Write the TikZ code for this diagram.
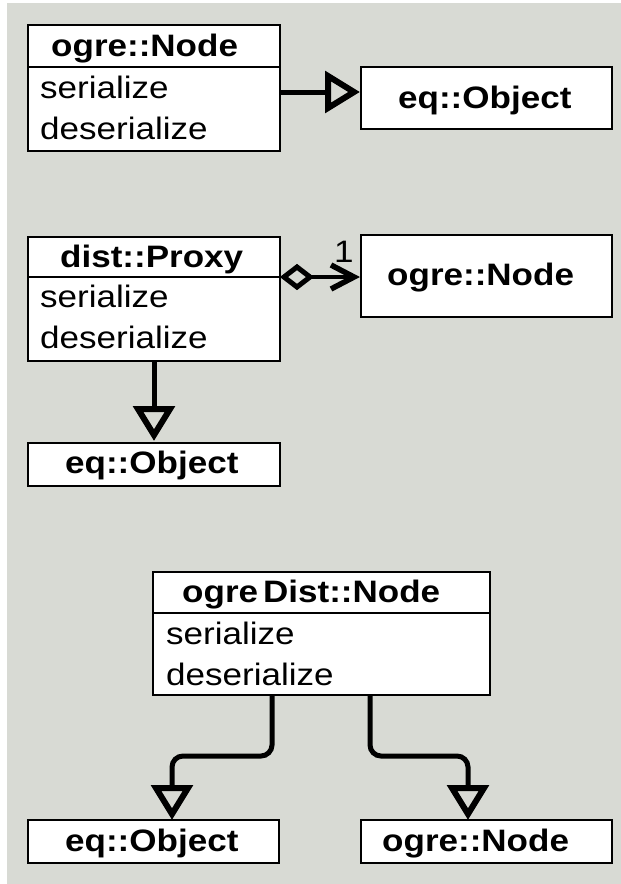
\documentclass[tikz,border=0pt]{standalone}
\usepackage{fontspec}
\setmainfont{Liberation Sans}[FakeStretch=1.13]
\definecolor{panel}{RGB}{216,218,212}
\tikzset{
  umlbox/.style={draw=black, fill=white, line width=2pt, inner sep=0pt},
  divider/.style={draw=black, line width=2pt},
  txt/.style={anchor=base west, inner sep=0pt, font=\fontsize{31}{34}\selectfont},
  ttl/.style={txt, font=\fontsize{31}{34}\selectfont\bfseries},
  conn/.style={draw=black, line width=5pt},
  % hollow triangle head, tip at the pic origin, pointing along +x
  genhead/.pic={\draw[line width=6pt, line join=miter, miter limit=10]
      (-3,0) -- (-29,-16) -- (-29,16) -- cycle;},
  % hollow diamond, left vertex at the pic origin
  aggtail/.pic={\draw[line width=5pt, line join=miter, miter limit=10]
      (3,0) -- (16,-10) -- (29,0) -- (16,10) -- cycle;},
  % open barb, tip at the pic origin
  navhead/.pic={\draw[line width=5.5pt, line join=miter, miter limit=10]
      (-26,-12) -- (-3,0) -- (-26,12);},
}
\begin{document}
\begin{tikzpicture}[x=1pt, y=-1pt]
  % page and panel
  \useasboundingbox (0,0) rectangle (621,884);
  \fill[white] (0,0) rectangle (621,884);
  \fill[panel] (7,3) rectangle (621,884);

  % --- ogre::Node derives from eq::Object
  \node[umlbox, minimum width=252pt, minimum height=126pt] (b1) at (154,88) {};
  \draw[divider] (b1.west |- 0,67) -- (b1.east |- 0,67);
  \node[ttl] (b1t) at (51,56) {ogre::Node};
  \node[txt] (b1s) at (40,98) {serialize};
  \node[txt] (b1d) at (40,139) {deserialize};

  \node[umlbox, minimum width=251pt, minimum height=62pt] (e1) at (486.5,98) {};
  \node[ttl] (e1t) at (398,108) {eq::Object};

  \coordinate (a1) at ([xshift=-3pt, yshift=-4pt]b1.east -| e1.west);
  \draw[conn] ([yshift=-4pt]b1.east) -- ([xshift=-29pt]a1);
  \pic at (a1) {genhead};

  % --- dist::Proxy aggregates ogre::Node, derives from eq::Object
  \node[umlbox, minimum width=252pt, minimum height=124pt] (b2) at (154,299) {};
  \draw[divider] (b2.west |- 0,277) -- (b2.east |- 0,277);
  \node[ttl] (b2t) at (60,267) {dist::Proxy};
  \node[txt] (b2s) at (40,307) {serialize};
  \node[txt] (b2d) at (40,348) {deserialize};

  \node[umlbox, minimum width=251pt, minimum height=82pt] (o2) at (486.5,276) {};
  \node[ttl] (o2t) at (387,285) {ogre::Node};

  \coordinate (a2s) at ([yshift=22pt]b2.east);
  \coordinate (a2e) at ([xshift=-3pt]a2s -| o2.west);
  \draw[conn, line width=4.5pt] ([xshift=29pt]a2s) -- ([xshift=-4pt]a2e);
  \pic at (a2s) {aggtail};
  \pic at (a2e) {navhead};
  \node[txt] (mult) at (334,262) {1};

  \node[umlbox, minimum width=252pt, minimum height=43pt] (e2) at (154,464.5) {};
  \node[ttl] (e2t) at (65,473) {eq::Object};

  \coordinate (a3) at ([yshift=4pt]e2.north);
  \draw[conn] (b2.south) -- ([yshift=29pt]a3);
  \pic[rotate=-90] at (a3) {genhead};

  % --- ogreDist::Node derives from both
  \node[umlbox, minimum width=337pt, minimum height=123pt] (b3) at (321.5,633.5) {};
  \draw[divider] (b3.west |- 0,613) -- (b3.east |- 0,613);
  \node[ttl] (b3t) at (182,602) {ogre\kern5pt Dist::Node};
  \node[txt] (b3s) at (166,644) {serialize};
  \node[txt] (b3d) at (166,685) {deserialize};

  \node[umlbox, minimum width=251pt, minimum height=43pt] (e3) at (153.5,841.5) {};
  \node[ttl] (e3t) at (65,851) {eq::Object};
  \node[umlbox, minimum width=251pt, minimum height=43pt] (o3) at (486.5,841.5) {};
  \node[ttl] (o3t) at (382,851) {ogre::Node};

  \coordinate (a4) at ([xshift=18.5pt, yshift=2pt]e3.north);
  \coordinate (a5) at ([xshift=-18.5pt, yshift=2pt]o3.north);
  \draw[conn, rounded corners=11pt] ([xshift=-49.5pt]b3.south) -- ++(0,60)
    -| ([yshift=29pt]a4);
  \draw[conn, rounded corners=11pt] ([xshift=48.5pt]b3.south) -- ++(0,60)
    -| ([yshift=29pt]a5);
  \pic[rotate=-90] at (a4) {genhead};
  \pic[rotate=-90] at (a5) {genhead};
\end{tikzpicture}
\end{document}
